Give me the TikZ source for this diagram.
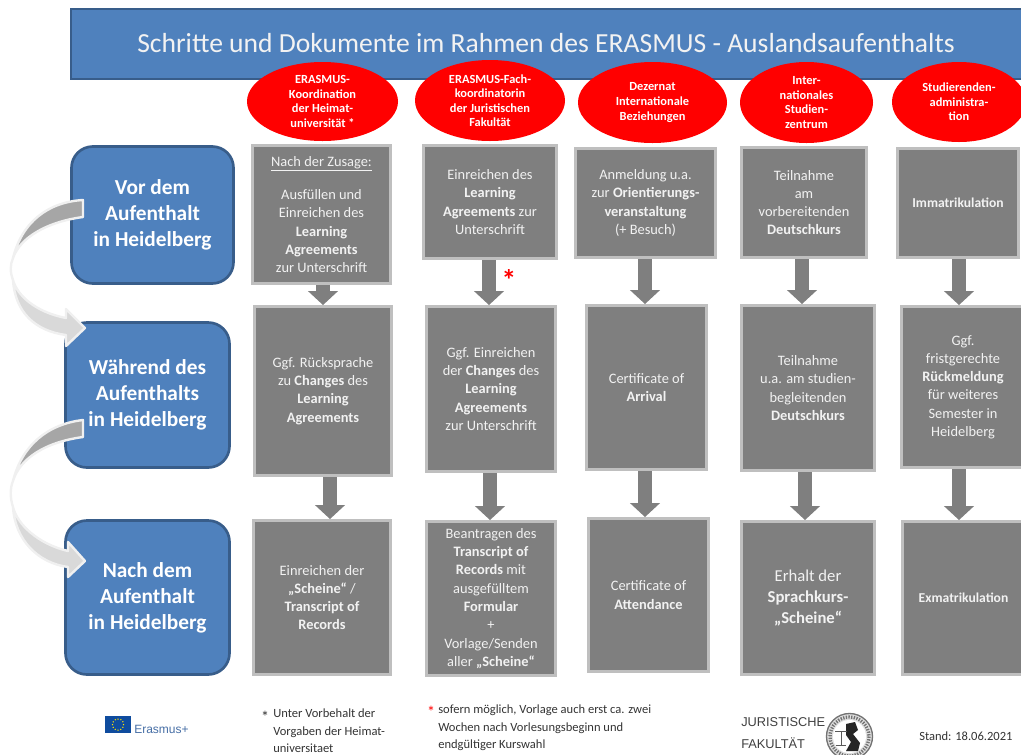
\documentclass[tikz,border=0pt]{standalone}
\usepackage{fontspec}
\setmainfont{Carlito}
\newfontfamily\arialfont{Liberation Sans}
\usetikzlibrary{shapes.geometric,arrows.meta,backgrounds,calc}
\definecolor{pptblue}{HTML}{4F81BD}
\definecolor{pptblueline}{HTML}{385D8A}
\definecolor{boxgray}{HTML}{7F7F7F}
\definecolor{boxline}{HTML}{BFBFBF}
\definecolor{boxtext}{HTML}{F2F2F2}
\tikzset{
  x=0.75pt,y=-0.75pt,
  titlebox/.style={draw=pptblueline,line width=2pt,fill=pptblue,inner sep=0pt,text=white},
  phase/.style={draw=pptblueline,line width=2pt,fill=pptblue,rounded corners=16pt,inner sep=0pt,align=center,text=white,font=\fontsize{16}{19.5}\selectfont\bfseries},
  office/.style={ellipse,fill=red,inner sep=0pt,align=center,text=white,font=\fontsize{9.3}{10.9}\selectfont\bfseries},
  stepbox/.style={draw=boxline,line width=2.2pt,fill=boxgray,inner sep=0pt,align=center,text=boxtext,font=\fontsize{10.8}{13.7}\selectfont},
  downarrow/.style={draw=boxgray,line width=11pt,-{Triangle[length=10.5pt,width=22pt]}},
  bandhi/.style={fill=black!35,draw=black!6,line width=1.8pt,line join=round},
  bandlo/.style={fill=black!15,draw=black!6,line width=1.8pt,line join=round},
  bandedge/.style={draw=black!6,line width=1.8pt},
  note/.style={anchor=west,inner sep=0pt,text=black!80,font=\fontsize{9.4}{12}\selectfont},
}
\newcommand{\gbox}[6][]{\node[stepbox,#1,minimum width={(#4-#2-3)*0.75pt},minimum height={(#5-#3-3)*0.75pt}] (#6) at ({(#2+#4)/2},{(#3+#5)/2})}
\newcommand{\pbox}[5]{\node[phase,minimum width={(#3-#1-3)*0.75pt},minimum height={(#4-#2-3)*0.75pt}] (#5) at ({(#1+#3)/2},{(#2+#4)/2})}
\newcommand{\obox}[5]{\node[office,minimum width={(#3-#1)*0.75pt},minimum height={(#4-#2)*0.75pt}] (#5) at ({(#1+#3)/2},{(#2+#4)/2})}
\begin{document}
\begin{tikzpicture}
\useasboundingbox (0,0) rectangle (1021,754);
% title
\node[titlebox,minimum width={956*0.75pt},minimum height={70*0.75pt}] (title) at (549,44) {};
\node[inner sep=0pt,text=boxtext,font=\fontsize{20.7}{24}\selectfont] (titletext) at (546,43) {Schritte und Dokumente im Rahmen des ERASMUS - Auslandsaufenthalts};
% offices
\obox{247}{62}{398}{141}{o1} {ERASMUS-\\Koordination\\der Heimat-\\universität *};
\obox{415}{60}{565}{141}{o2} {ERASMUS-Fach-\\koordinatorin\\der Juristischen\\Fakultät};
\obox{578}{62}{727}{143}{o3} {Dezernat\\Internationale\\Beziehungen};
\obox{740}{62}{873}{143}{o4} {Inter-\\nationales\\Studien-\\zentrum};
\obox{892}{62}{1026}{142}{o5} {Studierenden-\\administra-\\tion};
% phases
\pbox{70}{145}{235}{285}{p1} {Vor dem\\Aufenthalt\\in Heidelberg};
\pbox{64}{321}{231}{469}{p2} {Während des\\Aufenthalts\\in Heidelberg};
\pbox{64}{519}{231}{676}{p3} {Nach dem\\Aufenthalt\\in Heidelberg};
% steps
\gbox{251}{144}{392}{285}{c1a} {\underline{Nach der Zusage:}\\[-2.5pt]\mbox{}\\Ausfüllen und\\Einreichen des\\\textbf{Learning}\\\textbf{Agreements}\\zur Unterschrift};
\gbox{422}{144}{558}{260}{c2a} {Einreichen des\\\textbf{Learning}\\\textbf{Agreements} zur\\Unterschrift};
\gbox{574}{147}{717}{259}{c3a} {Anmeldung u.a.\\zur \textbf{Orientierungs-}\\\textbf{veranstaltung}\\(+ Besuch)};
\gbox{740}{146}{868}{259}{c4a} {Teilnahme\\am\\vorbereitenden\\\textbf{Deutschkurs}};
\gbox[font=\fontsize{10.2}{12}\selectfont\bfseries]{896}{147}{1020}{259}{c5a} {Immatrikulation};
\gbox{253}{305}{393}{477}{c1b} {Ggf. Rücksprache\\zu \textbf{Changes} des\\\textbf{Learning}\\\textbf{Agreements}};
\gbox{425}{305}{557}{473}{c2b} {Ggf. Einreichen\\der \textbf{Changes} des\\\textbf{Learning}\\\textbf{Agreements}\\zur Unterschrift};
\gbox{585}{304}{708}{471}{c3b} {Certificate of\\\textbf{Arrival}};
\gbox{740}{304}{876}{472}{c4b} {Teilnahme\\u.a. am studien-\\begleitenden\\\textbf{Deutschkurs}};
\gbox{900}{305}{1026}{469}{c5b} {Ggf.\\fristgerechte\\\textbf{Rückmeldung}\\für weiteres\\Semester in\\Heidelberg};
\gbox{252}{519}{392}{676}{c1c} {Einreichen der\\\textbf{„Scheine“} /\\\textbf{Transcript of}\\\textbf{Records}};
\gbox{425}{520}{557}{677}{c2c} {Beantragen des\\\textbf{Transcript of}\\\textbf{Records} mit\\ausgefülltem\\\textbf{Formular}\\+\\Vorlage/Senden\\aller \textbf{„Scheine“}};
\gbox{587}{517}{710}{673}{c3c} {Certificate of\\\textbf{Attendance}};
\gbox[font=\fontsize{12.5}{16}\selectfont]{740}{520}{876}{676}{c4c} {Erhalt der\\\textbf{Sprachkurs-}\\\textbf{„Scheine“}};
\gbox[font=\fontsize{10.2}{12}\selectfont\bfseries]{901}{520}{1026}{676}{c5c} {Exmatrikulation};
% connectors
\coordinate (a1) at (323,0);
\coordinate (a1b) at (330,0);
\coordinate (a2) at (489,0);
\coordinate (a2b) at (490,0);
\coordinate (a3) at (645,0);
\coordinate (a4) at (802,0);
\coordinate (a4b) at (805,0);
\coordinate (a5) at (959,0);
\begin{pgfonlayer}{background}
\draw[downarrow] (c1a.south -| a1) -- (c1b.north -| a1);
\draw[downarrow] (c1b.south -| a1b) -- (c1c.north -| a1b);
\draw[downarrow] (c2a.south -| a2) -- (c2b.north -| a2);
\draw[downarrow] (c2b.south -| a2b) -- (c2c.north -| a2b);
\draw[downarrow] (c3a.south -| a3) -- (c3b.north -| a3);
\draw[downarrow] (c3b.south -| a3) -- (c3c.north -| a3);
\draw[downarrow] (c4a.south -| a4) -- (c4b.north -| a4);
\draw[downarrow] (c4b.south -| a4b) -- (c4c.north -| a4b);
\draw[downarrow] (c5a.south -| a5) -- (c5b.north -| a5);
\draw[downarrow] (c5b.south -| a5) -- (c5c.north -| a5);
\end{pgfonlayer}
% curved arrows
\draw[bandedge] (13,258) .. controls (10,265) and (10,272) .. (13,280);
\draw[bandlo] (13,280) .. controls (17,295) and (35,312) .. (66,318) -- (66,309) -- (85,328) -- (66,346) -- (66,335)
   .. controls (35,331) and (15,312) .. (13,280) -- cycle;
\draw[bandhi] (83,200) .. controls (48,202) and (22,222) .. (13,258) .. controls (20,238) and (46,222) .. (83,217) -- cycle;
\draw[bandedge] (13,481) .. controls (10,488) and (10,498) .. (13,507);
\draw[bandlo] (13,507) .. controls (17,524) and (38,544) .. (68,551) -- (68,542) -- (85,561) -- (68,577) -- (68,567)
   .. controls (38,563) and (15,540) .. (13,507) -- cycle;
\draw[bandhi] (83,420) .. controls (48,424) and (22,445) .. (13,481) .. controls (20,458) and (46,442) .. (83,437) -- cycle;
% red star
\node[inner sep=0pt,text=red,font=\fontsize{22}{22}\selectfont\bfseries] (redstar) at (509,280) {*};
% footnotes
\node[inner sep=0pt,text=black!80,font=\fontsize{12}{12}\selectfont] (n1s) at (265,717) {*};
\node[note,align=left,anchor=north west] (n1) at (273,709) {Unter Vorbehalt der\\[1pt]Vorgaben der Heimat-\\[1pt]universitaet};
\node[inner sep=0pt,text=red,font=\fontsize{12}{12}\selectfont] (n2s) at (431,712) {*};
\node[note,align=left,anchor=north west] (n2) at (438,705) {sofern möglich, Vorlage auch erst ca. zwei\\[1pt]Wochen nach Vorlesungsbeginn und\\[1pt]endgültiger Kurswahl};
\node[note] (stand) at (919,736) {Stand: 18.06.2021};
% Erasmus+ logo
\fill[fill={rgb,255:red,15;green,76;blue,158}] (105,716) rectangle (131,733);
\foreach \k in {0,30,...,330} \fill[yellow!85!orange] ({118+5.5*cos(\k)},{724.5+5.5*sin(\k)}) circle (0.75);
\node[note,text={rgb,255:red,70;green,110;blue,165},font=\arialfont\fontsize{9}{11}\selectfont] (erasmus) at (134,729) {Erasmus+};
% faculty logo
\node[anchor=west,inner sep=0pt,align=left,text=black!75,font=\arialfont\fontsize{9.6}{16.5}\selectfont] (jur) at (741,733) {JURISTISCHE\\FAKULTÄT};
\fill[black!12] (849.5,736.5) circle (23.5);
\draw[black!55,line width=1pt] (849.5,736.5) circle (23);
\draw[black!55,line width=2.5pt,dash pattern=on 1pt off 1pt] (849.5,736.5) circle (19.5);
\fill[white] (849.5,736.5) circle (16.5);
\fill[black!85] (846,724) -- (855,722) -- (858,730) -- (853,734) -- (860,743) -- (858,751) -- (846,751) -- (851,742) -- (846,735) -- cycle;
\draw[black!65,line width=0.7pt] (835,731) -- (847,731) (841,731) -- (841,745) (836,745) -- (846,745);
\end{tikzpicture}
\end{document}
